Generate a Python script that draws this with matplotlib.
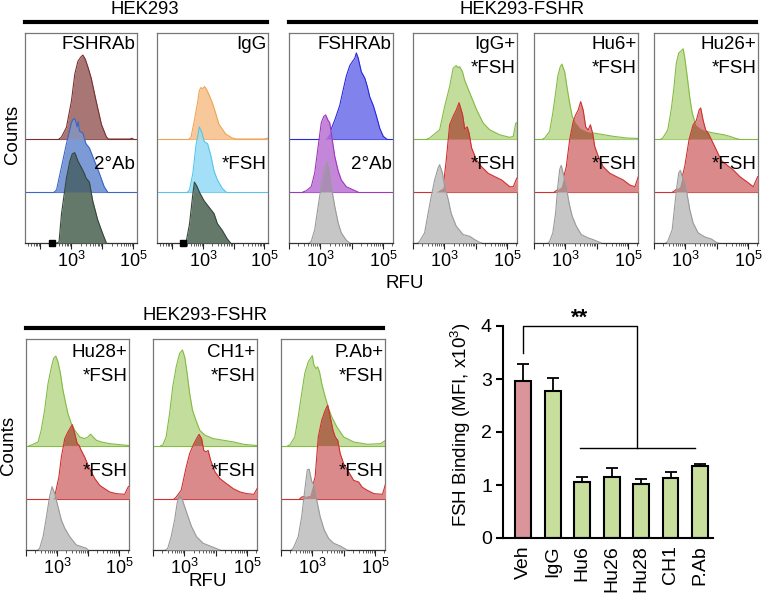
import numpy as np
import matplotlib
matplotlib.use('Agg')
import matplotlib.pyplot as plt
from matplotlib.lines import Line2D

plt.rcParams['font.family'] = ['Liberation Sans', 'DejaVu Sans']
plt.rcParams['mathtext.fontset'] = 'custom'
plt.rcParams['mathtext.rm'] = 'Liberation Sans'
plt.rcParams['mathtext.it'] = 'Liberation Sans:italic'
plt.rcParams['mathtext.bf'] = 'Liberation Sans:bold'

# ---------------- DATA (log10 RFU, height as fraction of panel) ----------------
# HEK293 / FSHRAb panel
P1_TOP = [(2.60,0),(2.68,0.01),(2.84,0.056),(3.0,0.18),(3.11,0.31),(3.21,0.37),(3.30,0.39),(3.37,0.40),(3.45,0.38),(3.54,0.34),(3.64,0.29),(3.80,0.18),(3.97,0.07),(4.13,0.01),(4.20,0.0),(4.90,0.0),(4.95,0.004),(5.0,0.0)]
P1_MID = [(2.45,0),(2.52,0.01),(2.68,0.12),(2.84,0.23),(3.0,0.33),(3.05,0.345),(3.11,0.35),(3.15,0.33),(3.18,0.31),(3.22,0.335),(3.26,0.29),(3.37,0.28),(3.47,0.23),(3.58,0.21),(3.74,0.15),(3.90,0.09),(4.06,0.025),(4.17,0.0)]
P1_BOT = [(2.52,0),(2.60,0.005),(2.68,0.14),(2.84,0.31),(2.95,0.39),(3.03,0.425),(3.11,0.43),(3.21,0.39),(3.32,0.36),(3.42,0.33),(3.47,0.31),(3.58,0.29),(3.69,0.20),(3.85,0.11),(4.01,0.045),(4.13,0.0)]
# HEK293 / IgG panel
P2_TOP = [(2.55,0),(2.61,0.01),(2.72,0.09),(2.83,0.18),(2.88,0.23),(2.93,0.245),(2.99,0.24),(3.05,0.25),(3.12,0.235),(3.20,0.21),(3.31,0.17),(3.42,0.12),(3.52,0.07),(3.74,0.024),(3.95,0.005),(4.10,0.0),(5.0,0.0),(5.1,0.004)]
P2_MID = [(2.50,0),(2.56,0.01),(2.67,0.09),(2.77,0.22),(2.88,0.31),(2.97,0.28),(3.04,0.24),(3.15,0.23),(3.26,0.17),(3.36,0.10),(3.47,0.057),(3.63,0.017),(3.75,0.0)]
P2_BOT = [(2.40,0),(2.45,0.005),(2.56,0.09),(2.67,0.235),(2.72,0.29),(2.80,0.27),(2.88,0.243),(3.04,0.20),(3.20,0.17),(3.36,0.14),(3.47,0.092),(3.63,0.06),(3.79,0.02),(3.90,0.0)]
# HEK293-FSHR / FSHRAb panel
P3_TOP = [(3.12,0),(3.19,0.005),(3.30,0.03),(3.46,0.09),(3.62,0.16),(3.73,0.235),(3.83,0.30),(3.94,0.35),(4.03,0.37),(4.10,0.385),(4.15,0.41),(4.21,0.385),(4.31,0.32),(4.42,0.29),(4.50,0.25),(4.58,0.20),(4.69,0.16),(4.79,0.11),(4.90,0.05),(5.01,0.013),(5.12,0.0)]
P3_MID = [(2.45,0),(2.55,0.006),(2.71,0.025),(2.82,0.09),(2.89,0.17),(2.96,0.25),(3.03,0.33),(3.11,0.36),(3.17,0.367),(3.25,0.34),(3.30,0.33),(3.35,0.28),(3.41,0.22),(3.46,0.17),(3.57,0.10),(3.67,0.057),(3.83,0.025),(4.05,0.01),(4.20,0.0)]
P3_BOT = [(2.65,0),(2.71,0.008),(2.82,0.063),(2.93,0.175),(3.03,0.27),(3.11,0.33),(3.21,0.386),(3.28,0.35),(3.35,0.27),(3.46,0.175),(3.57,0.095),(3.67,0.048),(3.83,0.013),(3.94,0.0)]
# IgG+ *FSH
P4_TOP = [(2.45,0),(2.53,0.005),(2.85,0.044),(3.01,0.155),(3.17,0.25),(3.28,0.337),(3.38,0.35),(3.44,0.34),(3.49,0.345),(3.58,0.32),(3.65,0.28),(3.81,0.22),(4.03,0.14),(4.24,0.076),(4.45,0.044),(4.77,0.02),(5.09,0.008),(5.20,0.013),(5.28,0.076),(5.35,0.08)]
P4_MID = [(2.74,0),(2.96,0.02),(3.06,0.15),(3.17,0.32),(3.28,0.36),(3.38,0.39),(3.47,0.425),(3.58,0.37),(3.65,0.30),(3.73,0.31),(3.79,0.28),(3.87,0.21),(4.03,0.152),(4.19,0.12),(4.40,0.089),(4.61,0.073),(4.83,0.057),(5.09,0.025),(5.20,0.025),(5.31,0.065),(5.35,0.07)]
P4_BOT = [(2.15,0),(2.21,0.008),(2.37,0.048),(2.48,0.14),(2.58,0.22),(2.69,0.30),(2.80,0.357),(2.85,0.373),(2.94,0.333),(3.01,0.27),(3.12,0.21),(3.22,0.14),(3.38,0.08),(3.60,0.04),(3.81,0.032),(3.97,0.016),(4.13,0.003),(4.20,0.0)]
# Hu6+ *FSH
P5_TOP = [(2.28,0),(2.34,0.005),(2.50,0.037),(2.60,0.124),(2.69,0.22),(2.76,0.30),(2.84,0.345),(2.89,0.357),(2.98,0.32),(3.05,0.25),(3.14,0.17),(3.22,0.108),(3.33,0.076),(3.46,0.052),(3.67,0.037),(3.89,0.029),(4.21,0.021),(4.53,0.013),(4.96,0.005),(5.33,0.003)]
P5_MID = [(2.65,0),(2.71,0.006),(2.87,0.025),(3.03,0.12),(3.14,0.25),(3.25,0.335),(3.33,0.367),(3.41,0.39),(3.49,0.43),(3.57,0.39),(3.65,0.31),(3.73,0.295),(3.80,0.32),(3.87,0.28),(3.94,0.216),(4.05,0.17),(4.21,0.12),(4.42,0.089),(4.63,0.073),(4.85,0.057),(5.06,0.033),(5.22,0.025),(5.33,0.073)]
P5_BOT = [(2.45,0),(2.50,0.008),(2.60,0.048),(2.69,0.143),(2.76,0.27),(2.82,0.35),(2.87,0.37),(2.93,0.333),(2.98,0.30),(3.03,0.27),(3.12,0.19),(3.22,0.127),(3.35,0.08),(3.51,0.04),(3.73,0.024),(3.89,0.016),(4.10,0.003),(4.15,0.0)]
# Hu26+ *FSH
P6_TOP = [(2.22,0),(2.28,0.005),(2.44,0.044),(2.55,0.14),(2.64,0.25),(2.71,0.36),(2.79,0.41),(2.85,0.417),(2.93,0.43),(2.98,0.39),(3.05,0.31),(3.14,0.20),(3.22,0.124),(3.33,0.068),(3.46,0.052),(3.67,0.037),(3.89,0.029),(4.21,0.021),(4.42,0.013),(4.63,0.002),(4.70,0.0)]
P6_MID = [(2.60,0),(2.66,0.006),(2.82,0.025),(2.98,0.12),(3.12,0.25),(3.25,0.32),(3.35,0.34),(3.44,0.39),(3.49,0.40),(3.57,0.34),(3.65,0.295),(3.73,0.28),(3.83,0.25),(3.99,0.20),(4.15,0.15),(4.31,0.13),(4.53,0.105),(4.74,0.073),(4.96,0.049),(5.17,0.025),(5.31,0.073)]
P6_BOT = [(2.38,0),(2.44,0.008),(2.58,0.063),(2.66,0.175),(2.73,0.27),(2.79,0.333),(2.84,0.346),(2.90,0.317),(2.98,0.286),(3.05,0.238),(3.14,0.16),(3.25,0.095),(3.41,0.048),(3.62,0.029),(3.83,0.019),(3.99,0.003),(4.05,0.0)]
# Hu28+ *FSH
B1_TOP = [(2.10,0),(2.17,0.002),(2.39,0.017),(2.49,0.073),(2.60,0.168),(2.71,0.294),(2.82,0.373),(2.89,0.413),(2.96,0.424),(3.03,0.397),(3.11,0.342),(3.19,0.263),(3.28,0.2),(3.35,0.152),(3.46,0.104),(3.57,0.073),(3.73,0.041),(3.89,0.033),(4.0,0.041),(4.08,0.054),(4.16,0.041),(4.27,0.025),(4.43,0.017),(4.70,0.009),(4.91,0.006),(5.32,0.0)]
B1_MID = [(2.85,0),(2.92,0.008),(3.06,0.103),(3.14,0.198),(3.25,0.285),(3.35,0.316),(3.49,0.351),(3.57,0.309),(3.65,0.261),(3.71,0.253),(3.78,0.229),(3.89,0.198),(4.05,0.142),(4.22,0.095),(4.38,0.063),(4.54,0.047),(4.70,0.032),(4.91,0.024),(5.18,0.021),(5.29,0.055),(5.33,0.06)]
B1_BOT = [(2.38,0),(2.44,0.008),(2.55,0.063),(2.66,0.158),(2.76,0.253),(2.84,0.30),(2.92,0.27),(3.03,0.206),(3.14,0.142),(3.25,0.103),(3.41,0.063),(3.62,0.024),(3.95,0.008),(4.0,0.0)]
# CH1+ *FSH
B2_TOP = [(2.25,0),(2.31,0.002),(2.42,0.041),(2.53,0.152),(2.63,0.278),(2.74,0.373),(2.85,0.437),(2.94,0.453),(3.01,0.421),(3.09,0.342),(3.17,0.247),(3.26,0.168),(3.37,0.12),(3.49,0.073),(3.66,0.049),(3.92,0.033),(4.25,0.025),(4.57,0.017),(4.89,0.006),(5.32,0.0)]
B2_MID = [(2.68,0),(2.74,0.008),(2.90,0.04),(3.06,0.15),(3.17,0.214),(3.28,0.253),(3.39,0.285),(3.47,0.305),(3.55,0.285),(3.62,0.229),(3.69,0.222),(3.76,0.229),(3.84,0.182),(3.98,0.127),(4.14,0.095),(4.35,0.071),(4.57,0.047),(4.78,0.032),(5.0,0.024),(5.22,0.021),(5.32,0.047)]
B2_BOT = [(2.40,0),(2.47,0.008),(2.58,0.063),(2.69,0.142),(2.77,0.222),(2.85,0.261),(2.94,0.237),(3.01,0.206),(3.12,0.158),(3.23,0.111),(3.39,0.063),(3.60,0.032),(3.92,0.013),(4.14,0.0)]
# P.Ab+ *FSH
B3_TOP = [(2.22,0),(2.28,0.002),(2.44,0.041),(2.55,0.136),(2.66,0.247),(2.76,0.342),(2.87,0.397),(3.0,0.426),(3.05,0.381),(3.12,0.365),(3.17,0.373),(3.23,0.349),(3.30,0.294),(3.41,0.231),(3.52,0.176),(3.62,0.136),(3.78,0.089),(4.0,0.041),(4.32,0.017),(4.75,0.006),(5.18,0.009),(5.34,0.025)]
B3_MID = [(2.60,0),(2.66,0.008),(2.92,0.016),(3.09,0.103),(3.19,0.293),(3.30,0.372),(3.41,0.419),(3.49,0.443),(3.57,0.388),(3.66,0.324),(3.73,0.293),(3.81,0.277),(3.89,0.214),(4.0,0.166),(4.16,0.127),(4.32,0.087),(4.48,0.079),(4.59,0.055),(4.75,0.04),(4.97,0.024),(5.24,0.021),(5.34,0.071)]
B3_BOT = [(2.33,0),(2.39,0.008),(2.55,0.063),(2.66,0.158),(2.76,0.285),(2.84,0.38),(2.90,0.383),(2.98,0.325),(3.05,0.309),(3.14,0.237),(3.25,0.158),(3.38,0.095),(3.52,0.055),(3.68,0.032),(3.89,0.019),(4.11,0.0)]

PANEL_LABELS = [["FSHRAb"], ["IgG"], ["FSHRAb"], ["IgG+", "*FSH"], ["Hu6+", "*FSH"], ["Hu26+", "*FSH"],
                ["Hu28+", "*FSH"], ["CH1+", "*FSH"], ["P.Ab+", "*FSH"]]
MID_LABELS = ["2°Ab", "*FSH", "2°Ab", "*FSH", "*FSH", "*FSH", "*FSH", "*FSH", "*FSH"]

BAR_CATS = ["Veh", "IgG", "Hu6", "Hu26", "Hu28", "CH1", "P.Ab"]
BAR_MEAN = [2.96, 2.77, 1.06, 1.16, 1.02, 1.14, 1.36]
BAR_ERR = [0.33, 0.25, 0.10, 0.16, 0.10, 0.11, 0.04]

# ---------------- STYLE ----------------
FILL = {'brown': '#a87674', 'blue1': '#7c9ad6', 'dkgreen': '#65796b', 'orange': '#f7c89a',
        'ltblue': '#a3e0f7', 'blue2': '#8282ec', 'magenta': '#c486d8', 'gray': '#c6c6c6',
        'green': '#c3dd9c', 'red': '#da8a8a'}
EDGE = {'brown': '#7a3030', 'blue1': '#3a66c4', 'dkgreen': '#34483a', 'orange': '#f0a455',
        'ltblue': '#55c5ee', 'blue2': '#2828e0', 'magenta': '#a035c0', 'gray': '#9a9a9a',
        'green': '#84bb44', 'red': '#d03030'}
OVER = {('blue1', 'brown'): '#8a90b4', ('dkgreen', 'blue1'): '#4f6878',
        ('ltblue', 'orange'): '#b3d6cf', ('dkgreen', 'ltblue'): '#5b8085',
        ('magenta', 'blue2'): '#9a6ed8', ('gray', 'magenta'): '#ab8cb6',
        ('red', 'green'): '#ad6e50', ('gray', 'red'): '#b48a8a'}

FS = 13.5   # panel / axis label font size
W, H = 762, 593
fig = plt.figure(figsize=(W / 100, H / 100), dpi=100)


def ax_px(x0, y0, x1, y1):
    return fig.add_axes([x0 / W, 1 - y1 / H, (x1 - x0) / W, (y1 - y0) / H])


PANELS = [
    ((25, 33, 137, 243), (1.5, 5.12), [(P1_TOP, 'brown'), (P1_MID, 'blue1'), (P1_BOT, 'dkgreen')], True),
    ((157, 33, 268, 243), (1.5, 5.12), [(P2_TOP, 'orange'), (P2_MID, 'ltblue'), (P2_BOT, 'dkgreen')], True),
    ((289, 33, 393, 243), (2.0, 5.32), [(P3_TOP, 'blue2'), (P3_MID, 'magenta'), (P3_BOT, 'gray')], False),
    ((413, 33, 517, 243), (2.0, 5.32), [(P4_TOP, 'green'), (P4_MID, 'red'), (P4_BOT, 'gray')], False),
    ((534, 33, 638, 243), (2.0, 5.32), [(P5_TOP, 'green'), (P5_MID, 'red'), (P5_BOT, 'gray')], False),
    ((654, 33, 758, 243), (2.0, 5.32), [(P6_TOP, 'green'), (P6_MID, 'red'), (P6_BOT, 'gray')], False),
    ((26, 339, 129, 550), (2.0, 5.32), [(B1_TOP, 'green'), (B1_MID, 'red'), (B1_BOT, 'gray')], False),
    ((153, 339, 257, 550), (2.0, 5.32), [(B2_TOP, 'green'), (B2_MID, 'red'), (B2_BOT, 'gray')], False),
    ((281, 339, 385, 550), (2.0, 5.32), [(B3_TOP, 'green'), (B3_MID, 'red'), (B3_BOT, 'gray')], False),
]
BASES = [0.495, 0.243, 0.0]

for i, (box, xlim, traces, square) in enumerate(PANELS):
    ax = ax_px(*box)
    ax.set_xlim(*xlim)
    ax.set_ylim(0, 1)
    X = np.linspace(xlim[0], xlim[1], 900)
    xs_all, ys_all = [], []
    for (pts, c), b in zip(traces, BASES):
        xs_all.append(np.array([p[0] for p in pts]))
        ys_all.append(np.array([p[1] for p in pts]))
    for k in range(2):
        ax.axhline(BASES[k], color=EDGE[traces[k][1]], lw=0.8, zorder=1)
    z = 2
    for k in range(3):
        c = traces[k][1]
        b = BASES[k]
        ax.fill_between(xs_all[k], b, b + ys_all[k], color=FILL[c], lw=0, zorder=z)
        if k > 0:
            up = k - 1
            t_lo = b + np.interp(X, xs_all[k], ys_all[k], left=0, right=0)
            t_up = BASES[up] + np.interp(X, xs_all[up], ys_all[up], left=0, right=0)
            hi = np.minimum(t_lo, t_up)
            ax.fill_between(X, BASES[up], hi, where=hi > BASES[up], interpolate=True,
                            color=OVER[(c, traces[up][1])], lw=0, zorder=z + 0.1)
        ax.plot(xs_all[k], b + ys_all[k], color=EDGE[c], lw=0.8, zorder=z + 0.2)
        z += 1
    labs = PANEL_LABELS[i]
    ypos = [0.943, 0.832] if i < 6 else [0.934, 0.822]
    for lab, yy in zip(labs, ypos):
        ax.text(0.985, yy, lab, transform=ax.transAxes, ha='right', va='center', fontsize=FS, zorder=10)
    ax.text(0.985, 0.372, MID_LABELS[i], transform=ax.transAxes, ha='right', va='center', fontsize=FS, zorder=10)

    for s in ['top', 'left', 'right']:
        ax.spines[s].set_color('#777777')
        ax.spines[s].set_linewidth(0.9)
    ax.spines['bottom'].set_color('#333333')
    ax.spines['bottom'].set_linewidth(0.9)
    ax.set_yticks([])
    ax.set_xticks([2, 3, 4, 5])
    ax.set_xticklabels(['', r'$\mathregular{10^3}$', '', r'$\mathregular{10^5}$'])
    minors = [n + np.log10(m) for n in range(1, 6) for m in range(2, 10)]
    ax.set_xticks([v for v in minors if xlim[0] < v < xlim[1]], minor=True)
    ax.tick_params(axis='x', which='major', length=4, width=0.8, pad=1.5, labelsize=13, color='#222222')
    ax.tick_params(axis='x', which='minor', length=2, width=0.6, color='#444444')
    if square:
        ax.plot([2.36], [0], marker='s', ms=4, color='black', clip_on=False, zorder=12)


def ftext(x, y, s, **kw):
    fig.text(x / W, 1 - y / H, s, ha='center', va='center', **kw)


def fline(x0, x1, y, lw=3):
    fig.add_artist(Line2D([x0 / W, x1 / W], [1 - y / H, 1 - y / H], color='black', lw=lw))


ftext(145, 10, 'HEK293', fontsize=13.3)
ftext(522, 10, 'HEK293-FSHR', fontsize=13.3)
fline(25, 267, 22)
fline(289, 756, 22)
ftext(13, 134, 'Counts', fontsize=FS, rotation=90)
ftext(405, 283, 'RFU', fontsize=FS)
ftext(205, 315, 'HEK293-FSHR', fontsize=13.3)
fline(26, 383, 328)
ftext(9, 445, 'Counts', fontsize=FS, rotation=90)
ftext(208, 582, 'RFU', fontsize=FS)

# ---------------- bar chart ----------------
bax = ax_px(503, 326, 713, 538)
xpos = np.arange(len(BAR_CATS))
colors = ['#d9959a'] + ['#c7de9c'] * (len(BAR_CATS) - 1)
bax.errorbar(xpos, BAR_MEAN, yerr=[np.zeros(len(BAR_ERR)), BAR_ERR], fmt='none', ecolor='black',
             elinewidth=1.3, capsize=4, capthick=1.3, zorder=1)
bax.bar(xpos, BAR_MEAN, width=0.54, color=colors, edgecolor='black', linewidth=1.5, zorder=2)
bax.set_xlim(-0.68, 6.44)
bax.set_ylim(0, 4)
for s in ['top', 'right']:
    bax.spines[s].set_visible(False)
for s in ['left', 'bottom']:
    bax.spines[s].set_linewidth(1.5)
bax.set_yticks([0, 1, 2, 3, 4])
bax.tick_params(axis='y', length=5, width=1.5, labelsize=14, pad=3)
bax.set_xticks(xpos)
bax.set_xticklabels(BAR_CATS, rotation=90, fontsize=14)
bax.tick_params(axis='x', length=0, pad=5)
fig.text(461 / W, 1 - 425 / H, 'FSH Binding (MFI, x10$\\mathregular{^3}$)', rotation=90,
         ha='center', va='center', fontsize=13.5)
bax.plot([0, 0, 3.85, 3.85], [3.5, 4.0, 4.0, 1.7], color='black', lw=1.0, clip_on=False)
bax.plot([1.93, 5.83], [1.7, 1.7], color='black', lw=1.0, clip_on=False)
bax.text(1.93, 4.15, '**', ha='center', va='center', fontsize=16, fontweight='bold')

fig.savefig('out.png', dpi=100)
